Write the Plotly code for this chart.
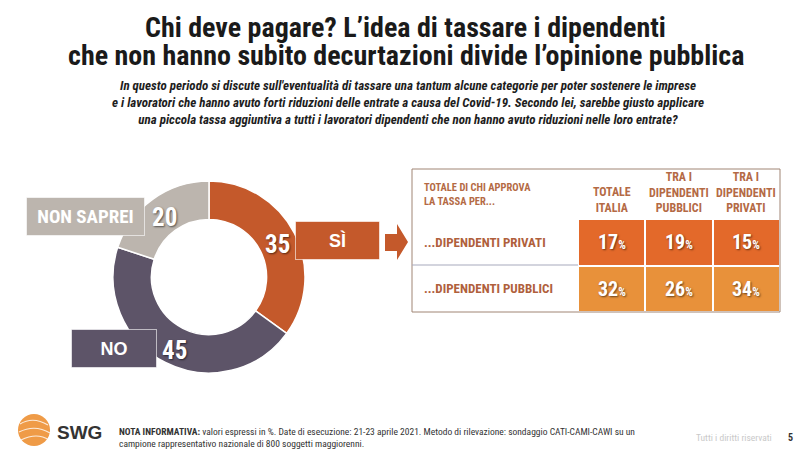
import plotly.graph_objects as go

W, H = 800, 456

# ---------------- data ----------------
pie_labels = ["SÌ", "NO", "NON SAPREI"]
pie_values = [35, 45, 20]
pie_colors = ["#C4592B", "#5D5468", "#BCB5AE"]

table_rows = ["...DIPENDENTI PRIVATI", "...DIPENDENTI PUBBLICI"]
table_cols = ["TOTALE<br>ITALIA", "TRA I<br>DIPENDENTI<br>PUBBLICI", "TRA I<br>DIPENDENTI<br>PRIVATI"]
row_privati = [17, 19, 15]
row_pubblici = [32, 26, 34]
row_colors = ["#E3692A", "#E8913A"]

title_lines = ["Chi deve pagare? L’idea di tassare i dipendenti",
               "che non hanno subito decurtazioni divide l’opinione pubblica"]
subtitle = ("In questo periodo si discute sull'eventualità di tassare una tantum alcune categorie per poter sostenere le imprese<br>"
            "e i lavoratori che hanno avuto forti riduzioni delle entrate a causa del Covid-19. Secondo lei, sarebbe giusto applicare<br>"
            "una piccola tassa aggiuntiva a tutti i lavoratori dipendenti che non hanno avuto riduzioni nelle loro entrate?")
table_header = "TOTALE DI CHI APPROVA<br>LA TASSA PER..."
note = ("<b>NOTA INFORMATIVA:</b> valori espressi in %. Date di esecuzione: 21-23 aprile 2021. Metodo di rilevazione: sondaggio CATI-CAMI-CAWI su un<br>"
        "campione rappresentativo nazionale di 800 soggetti maggiorenni.")

NARROW = "Liberation Sans Narrow, Arial Narrow, Roboto Condensed, sans-serif"
SANS = "Liberation Sans, Arial, sans-serif"


def px(x):
    return x / W


def py(y):
    return 1 - y / H


fig = go.Figure()

# ---------------- donut ----------------
fig.add_trace(go.Pie(
    labels=pie_labels, values=pie_values, sort=False, direction="clockwise",
    rotation=0, hole=0.6, textinfo="none", hoverinfo="label+value",
    marker=dict(colors=pie_colors, line=dict(color="white", width=1.5)),
    domain=dict(x=[px(113), px(305)], y=[py(373), py(181)]),
    showlegend=False,
))

# ---------------- table cells (heatmap) ----------------
z_rows = [[i] * len(table_cols) for i in range(len(table_rows))]
fig.add_trace(go.Heatmap(
    x=table_cols, y=table_rows, z=z_rows,
    colorscale=[[0, row_colors[0]], [1, row_colors[1]]],
    showscale=False, xgap=2, ygap=2, hoverinfo="skip",
))
fig.update_xaxes(domain=[px(578), px(780)], visible=False, fixedrange=True)
fig.update_yaxes(domain=[py(312), py(219)], visible=False, autorange="reversed", fixedrange=True)

annotations = []
shadow = "1px 1px 2px rgba(0,0,0,0.55)"


def ann(**kw):
    kw.setdefault("xanchor", "center")
    kw.setdefault("yanchor", "middle")
    kw.setdefault("showarrow", False)
    kw.setdefault("xref", "paper")
    kw.setdefault("yref", "paper")
    annotations.append(kw)


# cell values
for r, vals in zip(table_rows, [row_privati, row_pubblici]):
    for c, v in zip(table_cols, vals):
        ann(xref="x", yref="y", x=c, y=r,
            text=f"<b>{v}</b><span style='font-size:12px'><b>%</b></span>",
            font=dict(family=NARROW, size=20, color="white", shadow=shadow))

# column headers
for c in table_cols:
    ann(xref="x", x=c, y=py(217), yanchor="bottom", text=f"<b>{c}</b>", align="center",
        font=dict(family=NARROW, size=12, color="#B46A45"))

# row labels
for r in table_rows:
    ann(yref="y", x=px(422), y=r, xanchor="left", text=f"<b>{r}</b>",
        font=dict(family=NARROW, size=13, color="#B0603C"))

ann(x=px(422), y=py(179), xanchor="left", yanchor="top", text=f"<b>{table_header}</b>",
    align="left", font=dict(family=NARROW, size=10.5, color="#B46A45"))

# ---------------- titles ----------------
ann(x=px(406), y=py(28), text=f"<b>{title_lines[0]}</b>",
    font=dict(family=NARROW, size=28, color="#1A1A1A"))
ann(x=px(406), y=py(56), text=f"<b>{title_lines[1]}</b>",
    font=dict(family=NARROW, size=28, color="#1A1A1A"))
ann(x=px(408), y=py(103), text=f"<b><i>{subtitle}</i></b>", align="center",
    font=dict(family=NARROW, size=13, color="#1E1E1E"))

# ---------------- donut labels ----------------
boxes = [  # (label index, x0, x1, y0, y1)
    (0, 295, 380, 221, 260),
    (1, 71, 157, 329, 368),
    (2, 26, 145, 197, 236),
]
box_fill = ["#C4592B", "#5D5468", "#BCB5AE"]
num_pos = [(277, 244), (174, 350), (164, 217)]

for (i, x0, x1, y0, y1) in boxes:
    ann(x=px((x0 + x1) / 2), y=py((y0 + y1) / 2), text=f"<b>{pie_labels[i]}</b>",
        width=x1 - x0 - 2, height=y1 - y0 - 2, borderpad=0, borderwidth=1,
        bordercolor="rgba(255,255,255,0.6)", bgcolor=box_fill[i],
        font=dict(family=NARROW if i == 2 else SANS, size=19 if i == 2 else 18, color="white"))
for i, (nx, ny) in enumerate(num_pos):
    ann(x=px(nx), y=py(ny), text=f"<b>{pie_values[i]}</b>",
        font=dict(family=NARROW, size=25, color="white", shadow=shadow))

shapes = []
# arrow
ax = [385, 397, 397, 408, 397, 397, 385]
ay = [234, 234, 224, 242, 260, 251, 251]
path = "M " + " L ".join(f"{px(a)},{py(b)}" for a, b in zip(ax, ay)) + " Z"
shapes.append(dict(type="path", xref="paper", yref="paper", path=path,
                   fillcolor="#C4592B", line=dict(width=0)))

# table border and separator
shapes.append(dict(type="rect", xref="paper", yref="paper", x0=px(412), x1=px(780),
                   y0=py(312), y1=py(169), line=dict(color="#A08574", width=1)))
shapes.append(dict(type="line", xref="paper", yref="paper", x0=px(412), x1=px(578),
                   y0=py(265), y1=py(265), line=dict(color="#A7A9BC", width=1)))

# ---------------- footer ----------------
shapes.append(dict(type="circle", xref="paper", yref="paper", x0=px(18), x1=px(50),
                   y0=py(446), y1=py(414), fillcolor="#EF9B47", line=dict(width=0)))
for (a, b, c, d, e, f) in [(20, 424, 33, 416, 48, 425), (19, 432, 35, 424, 50, 433),
                           (21, 440, 37, 432, 49, 440)]:
    shapes.append(dict(type="path", xref="paper", yref="paper",
                       path=f"M {px(a)},{py(b)} Q {px(c)},{py(d)} {px(e)},{py(f)}",
                       line=dict(color="rgba(255,255,255,0.8)", width=1.2)))
ann(x=px(55), y=py(432), xanchor="left", text="<b>SWG</b>",
    font=dict(family=SANS, size=19, color="#333333"))
ann(x=px(117), y=py(437), xanchor="left", text=note, align="left",
    font=dict(family=NARROW, size=9.5, color="#333333"))
ann(x=px(694), y=py(437), xanchor="left", text="Tutti i diritti riservati",
    font=dict(family=NARROW, size=9.5, color="#C9C9C9"))
ann(x=px(790), y=py(437), text="<b>5</b>",
    font=dict(family=NARROW, size=10, color="#333333"))

fig.update_layout(
    width=W, height=H, margin=dict(l=0, r=0, t=0, b=0),
    paper_bgcolor="white", plot_bgcolor="white",
    annotations=annotations, shapes=shapes, showlegend=False,
)

fig.write_html("out.html", config={"displayModeBar": False},
               post_script="document.body.style.margin='0';document.body.style.overflow='hidden';")
